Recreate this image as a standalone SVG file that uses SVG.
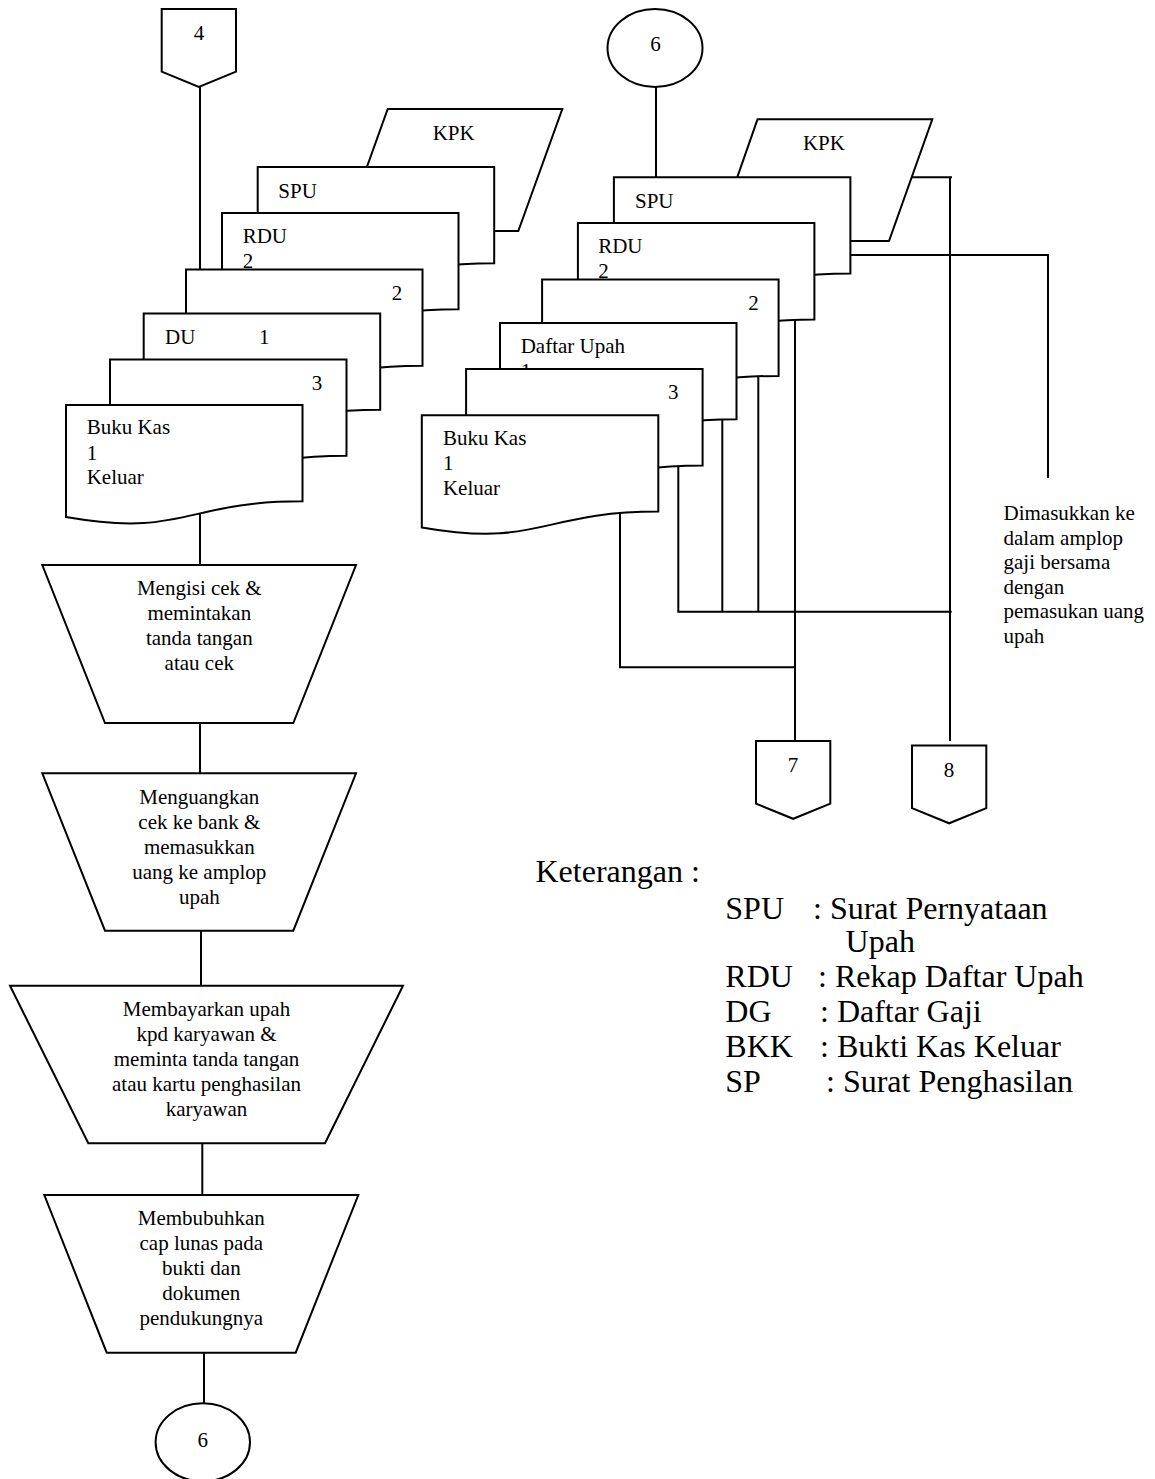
<svg xmlns="http://www.w3.org/2000/svg" xmlns:xlink="http://www.w3.org/1999/xlink" width="1155" height="1479" viewBox="0 0 1155 1479">
  <style>
    .shape { fill: #ffffff; stroke: #000000; stroke-width: 2; }
    .wire { fill: none; stroke: #000000; stroke-width: 2; }
    text { font-family: "Liberation Serif", "Times New Roman", serif; font-size: 21px; fill: #000000; }
    .mid { text-anchor: middle; }
    .legend { font-size: 32px; }
  </style>
  <defs>
    <!-- flowchart document symbol with wavy bottom -->
    <path id="doc" d="M0 0 h236.5 v96.3 c-118 0 -118 36.5 -236.5 15.8 z"/>
    <!-- off-page connector -->
    <path id="offpage" d="M0 0 h74.3 v62.6 l-37.15 15.2 l-37.15 -15.2 z"/>
  </defs>

  <rect width="1155" height="1479" fill="#ffffff"/>

  <!-- connectors (drawn first so the documents cover their ends) -->
  <g id="connectors">
    <path class="wire" d="M200 87 V269.4"/>
    <path class="wire" d="M200 512 V565"/>
    <path class="wire" d="M200 723 V773.3"/>
    <path class="wire" d="M201 930.7 V985.7"/>
    <path class="wire" d="M202.3 1143.3 V1195"/>
    <path class="wire" d="M204 1352.7 V1403.3"/>

    <path class="wire" d="M656 87 V177.3"/>
    <path class="wire" d="M908 177.3 H952"/>
    <path class="wire" d="M950 177.3 V741"/>
    <path class="wire" d="M848 255 H1048 V478"/>
    <path class="wire" d="M795 300 V741"/>
    <path class="wire" d="M758.3 360 V611.7"/>
    <path class="wire" d="M722.3 400 V611.7"/>
    <path class="wire" d="M678.3 450 V611.7 H951.7"/>
    <path class="wire" d="M620 505 V667.3 H795"/>
  </g>

  <!-- left column -->
  <g id="conn-4">
    <use xlink:href="#offpage" href="#offpage" class="shape" x="161.7" y="9.1"/>
    <text class="mid" x="199" y="40">4</text>
  </g>
  <g id="kpk-left">
    <polygon class="shape" points="387.7,109 562.3,109 518.3,231 344,231"/>
    <text x="432.7" y="140">KPK</text>
  </g>
  <g id="spu-left">
    <use xlink:href="#doc" href="#doc" class="shape" x="257.7" y="167"/>
    <text x="278.3" y="198.4">SPU</text>
  </g>
  <g id="rdu-left">
    <use xlink:href="#doc" href="#doc" class="shape" x="222" y="213"/>
    <text x="242.7" y="243.4">RDU</text>
    <text x="242.7" y="268.4">2</text>
  </g>
  <g id="doc2-left">
    <use xlink:href="#doc" href="#doc" class="shape" x="186" y="269.4"/>
    <text x="391.7" y="299.9">2</text>
  </g>
  <g id="du-left">
    <use xlink:href="#doc" href="#doc" class="shape" x="143.7" y="313.4"/>
    <text x="165" y="344.2">DU</text>
    <text x="259" y="344.2">1</text>
  </g>
  <g id="doc3-left">
    <use xlink:href="#doc" href="#doc" class="shape" x="110" y="359.4"/>
    <text x="311.7" y="389.8">3</text>
  </g>
  <g id="bkk-left">
    <use xlink:href="#doc" href="#doc" class="shape" x="66" y="405"/>
    <text x="86.7" y="434.4">Buku Kas</text>
    <text x="86.7" y="459.6">1</text>
    <text x="86.7" y="484.4">Keluar</text>
  </g>

  <g id="step-mengisi-cek">
    <polygon class="shape" points="42.3,565 356,565 293.3,723 105,723"/>
    <text class="mid" x="199.3" y="595">Mengisi cek &amp;</text>
    <text class="mid" x="199.3" y="620">memintakan</text>
    <text class="mid" x="199.3" y="645">tanda tangan</text>
    <text class="mid" x="199.3" y="670">atau cek</text>
  </g>
  <g id="step-menguangkan">
    <polygon class="shape" points="42.3,773.3 356,773.3 293.3,930.7 105,930.7"/>
    <text class="mid" x="199.3" y="803.5">Menguangkan</text>
    <text class="mid" x="199.3" y="828.5">cek ke bank &amp;</text>
    <text class="mid" x="199.3" y="853.5">memasukkan</text>
    <text class="mid" x="199.3" y="878.5">uang ke amplop</text>
    <text class="mid" x="199.3" y="903.5">upah</text>
  </g>
  <g id="step-membayarkan">
    <polygon class="shape" points="10,985.7 403,985.7 325,1143.3 88.3,1143.3"/>
    <text class="mid" x="206.5" y="1016">Membayarkan upah</text>
    <text class="mid" x="206.5" y="1041">kpd karyawan &amp;</text>
    <text class="mid" x="206.5" y="1066">meminta tanda tangan</text>
    <text class="mid" x="206.5" y="1091">atau kartu penghasilan</text>
    <text class="mid" x="206.5" y="1116">karyawan</text>
  </g>
  <g id="step-membubuhkan">
    <polygon class="shape" points="44.3,1195 358.3,1195 295.7,1352.7 106.7,1352.7"/>
    <text class="mid" x="201.3" y="1225">Membubuhkan</text>
    <text class="mid" x="201.3" y="1250">cap lunas pada</text>
    <text class="mid" x="201.3" y="1275">bukti dan</text>
    <text class="mid" x="201.3" y="1300">dokumen</text>
    <text class="mid" x="201.3" y="1325">pendukungnya</text>
  </g>
  <g id="conn-6-bottom">
    <ellipse class="shape" cx="202.8" cy="1442.3" rx="47.2" ry="39"/>
    <text class="mid" x="202.7" y="1446.5">6</text>
  </g>

  <!-- right column -->
  <g id="conn-6-top">
    <ellipse class="shape" cx="655" cy="48" rx="47.5" ry="39"/>
    <text class="mid" x="655.5" y="51">6</text>
  </g>
  <g id="kpk-right">
    <polygon class="shape" points="757.5,119.3 932.3,119.3 889,241 715,241"/>
    <text x="802.9" y="149.8">KPK</text>
  </g>
  <g id="spu-right">
    <use xlink:href="#doc" href="#doc" class="shape" x="613.9" y="177.3"/>
    <text x="635" y="207.6">SPU</text>
  </g>
  <g id="rdu-right">
    <use xlink:href="#doc" href="#doc" class="shape" x="577.9" y="223.1"/>
    <text x="598.2" y="253">RDU</text>
    <text x="598.2" y="278">2</text>
  </g>
  <g id="doc2-right">
    <use xlink:href="#doc" href="#doc" class="shape" x="542.1" y="279.6"/>
    <text x="748.2" y="310">2</text>
  </g>
  <g id="daftar-upah-right">
    <use xlink:href="#doc" href="#doc" class="shape" x="500" y="323"/>
    <text x="520.7" y="353">Daftar Upah</text>
    <text x="520.7" y="378">1</text>
  </g>
  <g id="doc3-right">
    <use xlink:href="#doc" href="#doc" class="shape" x="466.1" y="369.1"/>
    <text x="667.9" y="399.4">3</text>
  </g>
  <g id="bkk-right">
    <use xlink:href="#doc" href="#doc" class="shape" x="421.8" y="415.3"/>
    <text x="442.9" y="444.9">Buku Kas</text>
    <text x="442.9" y="470">1</text>
    <text x="442.9" y="494.8">Keluar</text>
  </g>
  <g id="conn-7">
    <use xlink:href="#offpage" href="#offpage" class="shape" x="756" y="741"/>
    <text class="mid" x="793" y="772">7</text>
  </g>
  <g id="conn-8">
    <use xlink:href="#offpage" href="#offpage" class="shape" x="912" y="745.5"/>
    <text class="mid" x="949" y="777">8</text>
  </g>

  <g id="note-amplop">
    <text x="1003.5" y="520">Dimasukkan ke</text>
    <text x="1003.5" y="544.5">dalam amplop</text>
    <text x="1003.5" y="569">gaji bersama</text>
    <text x="1003.5" y="593.5">dengan</text>
    <text x="1003.5" y="618">pemasukan uang</text>
    <text x="1003.5" y="642.5">upah</text>
  </g>

  <g id="legend" class="legend">
    <text class="legend" x="535.5" y="882">Keterangan :</text>
    <text class="legend" x="725.3" y="919">SPU</text>
    <text class="legend" x="813" y="919">: Surat Pernyataan</text>
    <text class="legend" x="845.6" y="952">Upah</text>
    <text class="legend" x="725.3" y="987">RDU</text>
    <text class="legend" x="818" y="987">: Rekap Daftar Upah</text>
    <text class="legend" x="725.3" y="1022">DG</text>
    <text class="legend" x="820" y="1022">: Daftar Gaji</text>
    <text class="legend" x="725.3" y="1057">BKK</text>
    <text class="legend" x="820" y="1057">: Bukti Kas Keluar</text>
    <text class="legend" x="725.3" y="1092">SP</text>
    <text class="legend" x="826" y="1092">: Surat Penghasilan</text>
  </g>
</svg>
